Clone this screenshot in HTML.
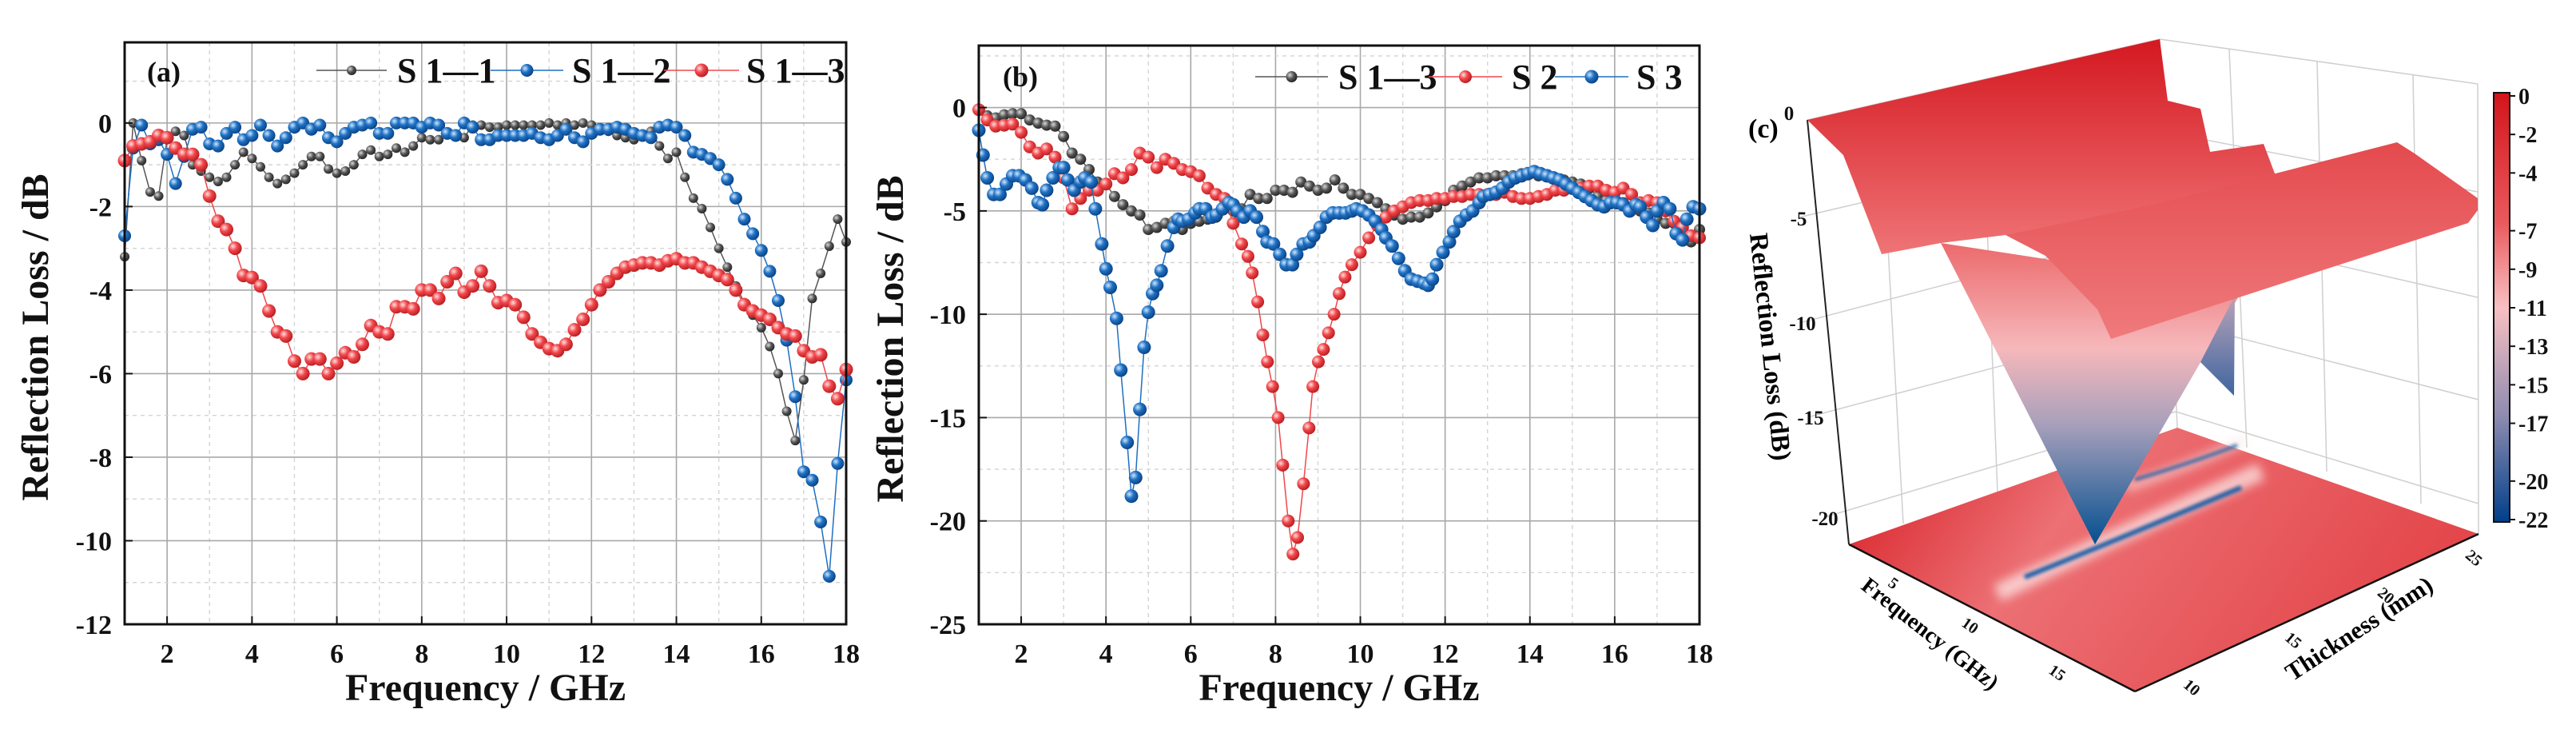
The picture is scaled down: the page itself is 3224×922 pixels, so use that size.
<!DOCTYPE html>
<html><head><meta charset="utf-8"><style>
html,body{margin:0;padding:0;background:#fff;}
svg{display:block;font-family:"Liberation Serif",serif;font-weight:bold;}
</style></head><body>
<svg id="fig" width="3224" height="922" viewBox="0 0 3224 922" xmlns="http://www.w3.org/2000/svg">
<defs>
<radialGradient id="gk" cx="0.35" cy="0.35" r="0.7"><stop offset="0" stop-color="#d8d8d8"/><stop offset="0.5" stop-color="#555"/><stop offset="1" stop-color="#222"/></radialGradient>
<radialGradient id="gb" cx="0.35" cy="0.35" r="0.7"><stop offset="0" stop-color="#cfe6ff"/><stop offset="0.45" stop-color="#1f72c4"/><stop offset="1" stop-color="#0b3f80"/></radialGradient>
<radialGradient id="gr" cx="0.35" cy="0.35" r="0.7"><stop offset="0" stop-color="#ffe0e0"/><stop offset="0.45" stop-color="#f2474b"/><stop offset="1" stop-color="#b31c20"/></radialGradient>
<linearGradient id="cone" x1="0" y1="0" x2="0" y2="1"><stop offset="0" stop-color="#ec6a6c"/><stop offset="0.35" stop-color="#f6b8bb"/><stop offset="0.6" stop-color="#a9a0bb"/><stop offset="1" stop-color="#04508f"/></linearGradient>
<linearGradient id="sheetB" x1="0" y1="0" x2="0" y2="1"><stop offset="0" stop-color="#d41820"/><stop offset="1" stop-color="#ef7476"/></linearGradient>
<linearGradient id="sheetF" x1="0" y1="0" x2="0" y2="1"><stop offset="0" stop-color="#e44a4e"/><stop offset="1" stop-color="#ef7a7c"/></linearGradient>
<linearGradient id="floorG" x1="0" y1="0" x2="1" y2="0.3"><stop offset="0" stop-color="#d5181f"/><stop offset="0.4" stop-color="#ec7074"/><stop offset="1" stop-color="#e3474b"/></linearGradient>
<linearGradient id="cbar" x1="0" y1="0" x2="0" y2="1"><stop offset="0" stop-color="#d3141c"/><stop offset="0.3" stop-color="#e9595c"/><stop offset="0.5" stop-color="#f8c0c2"/><stop offset="0.75" stop-color="#8f8cb0"/><stop offset="1" stop-color="#003f8a"/></linearGradient>
<linearGradient id="blueSl" x1="0" y1="0" x2="0" y2="1"><stop offset="0" stop-color="#b9a3b8"/><stop offset="1" stop-color="#3f65a0"/></linearGradient>
<filter id="blur6" x="-20%" y="-50%" width="140%" height="200%"><feGaussianBlur stdDeviation="6"/></filter>
<filter id="blur2" x="-20%" y="-50%" width="140%" height="200%"><feGaussianBlur stdDeviation="2"/></filter>
</defs>
<g id="panelA"></g>
<g id="panelB"></g>
<g id="panelC">
  <g stroke="#cfcfcf" stroke-width="1.5" fill="none">
    <line x1="2262" y1="150" x2="2703" y2="49"/><line x1="2703" y1="49" x2="3101" y2="105"/>
    <line x1="2703" y1="49" x2="2725" y2="535"/><line x1="3101" y1="105" x2="3102" y2="668"/>
    <line x1="2353" y1="128" x2="2382" y2="655"/><line x1="2480" y1="100" x2="2500" y2="616"/><line x1="2608" y1="70" x2="2625" y2="575"/>
    <line x1="2790" y1="62" x2="2812" y2="560"/><line x1="2900" y1="77" x2="2912" y2="590"/><line x1="3020" y1="94" x2="3030" y2="630"/>
    <line x1="2251" y1="272" x2="2708" y2="165"/><line x1="2256" y1="403" x2="2713" y2="283"/><line x1="2266" y1="521" x2="2718" y2="401"/><line x1="2284" y1="647" x2="2723" y2="515"/>
    <line x1="2708" y1="165" x2="3101" y2="240"/><line x1="2713" y1="283" x2="3101" y2="372"/><line x1="2718" y1="401" x2="3102" y2="500"/><line x1="2723" y1="515" x2="3102" y2="630"/>
  </g>
  <line x1="2262" y1="150" x2="2314" y2="681" stroke="#222" stroke-width="2"/>
  <polygon points="2314,681 2725,535 3102,668 2672,865" fill="url(#floorG)"/>
  <path d="M2500,742 Q2660,665 2830,590" stroke="#fde6e6" stroke-width="22" fill="none" opacity="0.75" filter="url(#blur6)"/>
  <path d="M2660,610 Q2760,575 2810,550" stroke="#fde6e6" stroke-width="12" fill="none" opacity="0.6" filter="url(#blur6)"/>
  <path d="M2534,722 Q2650,675 2805,610" stroke="#1b5ea6" stroke-width="6" fill="none" filter="url(#blur2)"/>
  <path d="M2672,600 Q2740,580 2800,557" stroke="#2d67a8" stroke-width="4" fill="none" filter="url(#blur2)"/>
  <polygon points="2429,304 2807,362 2622,681" fill="url(#cone)"/>
  <polygon points="2754,453 2797,370 2796,495" fill="url(#blueSl)"/>
  <polygon points="2262,150 2703,49 2713,126 2754,136 2766,190 2833,180 2850,225 2870,215 2640,300 2510,294 2429,304 2355,318 2307,194" fill="url(#sheetB)"/>
  <polygon points="2510,294 2700,255 3000,178 3022,192 3101,248 3101,263 3089,279 2642,424 2625,387 2560,320" fill="url(#sheetF)"/>
  <line x1="2314" y1="681" x2="2672" y2="865" stroke="#111" stroke-width="2.5"/>
  <line x1="2672" y1="865" x2="3102" y2="668" stroke="#111" stroke-width="2.5"/>
  <g font-size="25" fill="#111">
    <text x="2239" y="150" text-anchor="middle">0</text><text x="2251" y="282" text-anchor="middle">-5</text>
    <text x="2256" y="413" text-anchor="middle">-10</text><text x="2266" y="531" text-anchor="middle">-15</text><text x="2284" y="657" text-anchor="middle">-20</text>
  </g>
  <text transform="translate(2205,435) rotate(84)" font-size="33" text-anchor="middle">Reflection Loss (dB)</text>
  <text x="2188" y="172" font-size="34">(c)</text>
  <g font-size="20" fill="#111">
    <text transform="translate(2366,735) rotate(35)" text-anchor="middle">5</text>
    <text transform="translate(2462,788) rotate(35)" text-anchor="middle">10</text>
    <text transform="translate(2571,847) rotate(35)" text-anchor="middle">15</text>
  </g>
  <g font-size="20" fill="#111">
    <text transform="translate(2739,865) rotate(40)" text-anchor="middle">10</text>
    <text transform="translate(2866,806) rotate(40)" text-anchor="middle">15</text>
    <text transform="translate(2982,750) rotate(40)" text-anchor="middle">20</text>
    <text transform="translate(3092,703) rotate(40)" text-anchor="middle">25</text>
  </g>
  <text transform="translate(2410,800) rotate(38)" font-size="28" text-anchor="middle">Frequency (GHz)</text>
  <text transform="translate(2958,795) rotate(-33)" font-size="31" text-anchor="middle">Thickness (mm)</text>
  <rect x="3121" y="116" width="20" height="537" fill="url(#cbar)" stroke="#111" stroke-width="2"/>
  <g id="cbarLabels" font-size="28" fill="#111"></g>
</g>
</svg>
<script>
const NS='http://www.w3.org/2000/svg';
// ---------- Panel A data ----------
const freqA=[];for(let i=0;i<=85;i++)freqA.push(+(1+i*0.2).toFixed(1));
const a_S11=[-3.2,0,-0.9,-1.65,-1.75,-0.4,-0.2,-0.3,-1.0,-1.15,-1.3,-1.4,-1.3,-1.0,-0.7,-0.85,-1.05,-1.3,-1.45,-1.35,-1.2,-1.0,-0.8,-0.8,-1.1,-1.2,-1.15,-1.0,-0.75,-0.65,-0.8,-0.75,-0.6,-0.7,-0.55,-0.35,-0.4,-0.4,-0.25,-0.3,-0.35,-0.05,-0.05,-0.1,-0.1,-0.05,-0.05,-0.05,-0.05,-0.05,0,-0.05,0,-0.05,0,-0.05,-0.15,-0.2,-0.3,-0.35,-0.4,-0.3,-0.2,-0.55,-0.85,-0.7,-1.3,-1.8,-2.05,-2.5,-3.0,-3.45,-3.9,-4.3,-4.6,-4.9,-5.35,-6.0,-6.9,-7.6,-6.15,-4.2,-3.6,-2.95,-2.3,-2.85];
const a_S12=[-2.7,-0.6,-0.05,-0.5,-0.4,-0.75,-1.45,-0.8,-0.15,-0.1,-0.5,-0.55,-0.25,-0.1,-0.4,-0.3,-0.05,-0.3,-0.55,-0.35,-0.1,0,-0.15,-0.05,-0.35,-0.45,-0.25,-0.1,-0.05,0,-0.25,-0.25,0,0,0,-0.1,0,-0.05,-0.25,-0.3,0,-0.1,-0.4,-0.4,-0.3,-0.3,-0.3,-0.3,-0.25,-0.35,-0.4,-0.3,-0.15,-0.35,-0.45,-0.25,-0.15,-0.15,-0.1,-0.15,-0.25,-0.3,-0.35,-0.1,-0.05,-0.1,-0.3,-0.7,-0.75,-0.85,-1.0,-1.35,-1.8,-2.3,-2.65,-3.05,-3.55,-4.25,-5.2,-6.55,-8.35,-8.55,-9.55,-10.85,-8.15,-6.15];
const a_S13=[-0.9,-0.55,-0.5,-0.45,-0.3,-0.35,-0.6,-0.75,-0.75,-1.0,-1.75,-2.35,-2.55,-3.0,-3.65,-3.7,-3.9,-4.5,-5.0,-5.1,-5.7,-6.0,-5.65,-5.65,-6.0,-5.75,-5.5,-5.6,-5.3,-4.85,-5.0,-5.05,-4.4,-4.4,-4.45,-4.0,-4.0,-4.2,-3.8,-3.6,-4.05,-3.9,-3.55,-3.9,-4.3,-4.25,-4.35,-4.65,-5.05,-5.25,-5.4,-5.45,-5.3,-4.95,-4.7,-4.35,-4.0,-3.8,-3.6,-3.45,-3.4,-3.35,-3.35,-3.4,-3.3,-3.25,-3.35,-3.35,-3.45,-3.55,-3.65,-3.75,-4.0,-4.35,-4.5,-4.6,-4.7,-4.9,-5.05,-5.1,-5.45,-5.6,-5.55,-6.3,-6.6,-5.9];
const xTicksA=[2,4,6,8,10,12,14,16,18];
const yTicksA=[0,-2,-4,-6,-8,-10,-12];
// ---------- Panel B data ----------
const b_S13=[-0.1,-0.4,-0.5,-0.35,-0.3,-0.3,-0.6,-0.75,-0.85,-0.9,-1.4,-2.2,-2.5,-3.0,-3.6,-3.7,-4.3,-4.7,-5.0,-5.2,-5.9,-5.8,-5.6,-5.5,-5.9,-5.6,-5.5,-5.4,-5.3,-4.8,-5.0,-4.9,-4.2,-4.4,-4.4,-4.0,-4.0,-4.1,-3.6,-3.8,-4.0,-3.9,-3.5,-3.9,-4.2,-4.2,-4.4,-4.6,-4.9,-5.2,-5.4,-5.3,-5.3,-5.1,-4.8,-4.5,-4.0,-3.8,-3.6,-3.4,-3.4,-3.3,-3.3,-3.3,-3.2,-3.2,-3.3,-3.3,-3.4,-3.5,-3.6,-3.7,-3.9,-4.3,-4.5,-4.6,-4.6,-4.8,-5.0,-5.1,-5.4,-5.6,-5.6,-6.2,-6.5,-5.9];
const freqB_S2=[1.0,1.2,1.4,1.6,1.8,2.0,2.2,2.4,2.6,2.8,3.0,3.2,3.4,3.6,3.8,4.0,4.2,4.4,4.6,4.8,5.0,5.2,5.4,5.6,5.8,6.0,6.2,6.4,6.6,6.8,7.0,7.2,7.35,7.45,7.58,7.7,7.81,7.93,8.06,8.17,8.3,8.41,8.52,8.66,8.79,8.88,9.01,9.13,9.25,9.38,9.5,9.64,9.8,10.0,10.2,10.4,10.6,10.8,11.0,11.2,11.4,11.6,11.8,12.0,12.2,12.4,12.6,12.8,13.0,13.2,13.4,13.6,13.8,14.0,14.2,14.4,14.6,14.8,15.0,15.2,15.4,15.6,15.8,16.0,16.2,16.4,16.6,16.8,17.0,17.2,17.4,17.6,17.8,18.0];
const b_S2=[-0.1,-0.6,-0.9,-0.85,-0.8,-1.2,-1.9,-2.2,-2.0,-2.4,-3.4,-4.9,-4.4,-4.0,-4.0,-3.7,-3.2,-3.4,-3.0,-2.2,-2.4,-2.9,-2.5,-2.7,-3.0,-3.1,-3.3,-3.9,-4.2,-4.4,-5.6,-6.6,-7.2,-8.0,-9.4,-11.0,-12.3,-13.5,-15.0,-17.3,-20.0,-21.6,-20.8,-18.2,-15.5,-13.5,-12.3,-11.7,-10.9,-10.0,-9.0,-8.2,-7.6,-7.0,-6.3,-5.7,-5.3,-5.0,-4.8,-4.6,-4.5,-4.5,-4.4,-4.4,-4.3,-4.3,-4.2,-4.2,-4.2,-4.2,-4.1,-4.3,-4.4,-4.4,-4.3,-4.2,-4.0,-4.0,-3.9,-3.9,-3.8,-3.8,-4.0,-4.1,-3.9,-4.2,-4.6,-4.5,-4.6,-5.0,-5.5,-5.8,-6.2,-6.3];
const freqB_S3=[1.0,1.1,1.2,1.35,1.5,1.65,1.8,1.95,2.1,2.25,2.4,2.5,2.6,2.75,2.9,3.0,3.1,3.25,3.4,3.5,3.65,3.75,3.9,4.0,4.1,4.25,4.35,4.5,4.6,4.7,4.8,4.9,5.0,5.1,5.2,5.3,5.45,5.6,5.7,5.8,5.95,6.1,6.2,6.35,6.5,6.6,6.75,6.9,7.0,7.1,7.25,7.4,7.55,7.7,7.8,7.95,8.1,8.25,8.4,8.5,8.65,8.8,8.9,9.05,9.2,9.35,9.5,9.65,9.8,9.9,10.05,10.2,10.35,10.5,10.6,10.75,10.9,11.05,11.2,11.35,11.5,11.6,11.7,11.8,11.95,12.1,12.2,12.35,12.5,12.65,12.8,12.9,13.05,13.2,13.35,13.5,13.65,13.8,13.95,14.1,14.25,14.4,14.55,14.7,14.85,15.0,15.15,15.3,15.45,15.6,15.75,15.9,16.05,16.2,16.35,16.5,16.6,16.75,16.9,17.0,17.15,17.3,17.45,17.6,17.7,17.85,18.0];
const b_S3=[-1.1,-2.3,-3.4,-4.2,-4.2,-3.7,-3.3,-3.3,-3.5,-3.9,-4.6,-4.7,-4.0,-3.4,-2.9,-2.9,-3.5,-4.0,-3.6,-3.4,-3.6,-4.9,-6.6,-7.8,-8.7,-10.2,-12.7,-16.2,-18.8,-17.9,-14.6,-11.6,-9.9,-9.0,-8.6,-7.9,-6.7,-5.8,-5.4,-5.5,-5.4,-5.1,-4.9,-4.9,-5.3,-5.2,-4.9,-4.6,-4.7,-5.0,-5.3,-5.0,-5.3,-6.0,-6.5,-6.6,-7.1,-7.6,-7.6,-7.1,-6.6,-6.5,-6.2,-5.8,-5.3,-5.1,-5.1,-5.1,-5.0,-4.9,-5.0,-5.2,-5.5,-5.9,-6.3,-6.7,-7.3,-7.9,-8.3,-8.4,-8.5,-8.6,-8.3,-7.6,-7.0,-6.5,-6.0,-5.5,-5.2,-5.0,-4.6,-4.3,-4.2,-4.1,-3.9,-3.6,-3.4,-3.3,-3.2,-3.1,-3.2,-3.3,-3.4,-3.5,-3.7,-3.9,-4.1,-4.3,-4.5,-4.7,-4.8,-4.6,-4.6,-4.7,-5.0,-4.7,-4.8,-5.3,-5.7,-5.0,-4.6,-4.9,-6.1,-6.4,-5.4,-4.8,-4.9];
const xTicksB=[2,4,6,8,10,12,14,16,18];
const yTicksB=[0,-5,-10,-15,-20,-25];
const cbarTicks=[0,-2,-4,-7,-9,-11,-13,-15,-17,-20,-22];

function mk(parent,tag,attrs,txt){const e=document.createElementNS(NS,tag);for(const k in attrs)e.setAttribute(k,attrs[k]);if(txt!==undefined)e.textContent=txt;parent.appendChild(e);return e;}

function panel(g,c){
  const sx=v=>c.L+(v-c.xmin)/(c.xmax-c.xmin)*(c.R-c.L);
  const sy=v=>c.T+(c.ymax-v)/(c.ymax-c.ymin)*(c.B-c.T);
  for(let v=Math.ceil(c.xmin);v<=c.xmax;v++){
    const ln=mk(g,'line',{x1:sx(v),x2:sx(v),y1:c.T,y2:c.B,stroke:v%2===0?'#a8a8a8':'#d4d4d4','stroke-width':v%2===0?1.6:1.4,'stroke-dasharray':v%2===0?'':'5,5'});
    
    
  }
  for(let v=c.ymin;v<=c.ymax+1e-9;v+=c.ystep/2){
    const major=Math.abs((v/c.ystep)-Math.round(v/c.ystep))<1e-6;
    const ln=mk(g,'line',{x1:c.L,x2:c.R,y1:sy(v),y2:sy(v),stroke:major?'#a8a8a8':'#d4d4d4','stroke-width':major?1.6:1.4,'stroke-dasharray':major?'':'5,5'});
    
    
  }
  c.series.forEach(s=>{
    const pts=s.x.map((x,i)=>sx(x).toFixed(1)+','+sy(s.y[i]).toFixed(1)).join(' ');
    const pl=mk(g,'polyline',{points:pts,fill:'none',stroke:s.line,'stroke-width':1.5});
    
    
    s.x.forEach((x,i)=>{
      const m=mk(g,'circle',{cx:sx(x).toFixed(1),cy:sy(s.y[i]).toFixed(1),r:s.r,fill:s.fill});
      
      
    });
  });
  const fr=mk(g,'rect',{x:c.L,y:c.T,width:c.R-c.L,height:c.B-c.T,fill:'none',stroke:'#111','stroke-width':3});
  
  
  c.xt.forEach(v=>{
    const t=mk(g,'text',{x:sx(v),y:c.B+48,'font-size':34,'text-anchor':'middle',fill:'#111'},String(v));
    
    
    mk(g,'line',{x1:sx(v),x2:sx(v),y1:c.B,y2:c.B-10,stroke:'#111','stroke-width':2});
  });
  c.yt.forEach(v=>{
    const t=mk(g,'text',{x:c.L-16,y:sy(v)+12,'font-size':34,'text-anchor':'end',fill:'#111'},String(v));
    
    
    mk(g,'line',{x1:c.L,x2:c.L+10,y1:sy(v),y2:sy(v),stroke:'#111','stroke-width':2});
  });
  const xt=mk(g,'text',{x:(c.L+c.R)/2,y:c.B+95,'font-size':48,'text-anchor':'middle',fill:'#111'},'Frequency / GHz');
  
  
  const yt=mk(g,'text',{transform:`translate(${c.ytx},${(c.T+c.B)/2+5}) rotate(-90)`,'font-size':48,'text-anchor':'middle',fill:'#111'},'Reflection Loss / dB');
  
  
  const lab=mk(g,'text',{x:c.labx,y:c.laby+12,'font-size':36,fill:'#111'},c.label);
  
  
  c.legend.forEach(l=>{
    const lg=mk(g,'g',{});
    
    
    mk(lg,'line',{x1:l.x0,x2:l.x1,y1:c.legy,y2:c.legy,stroke:l.line,'stroke-width':1.5});
    mk(lg,'circle',{cx:(l.x0+l.x1)/2,cy:c.legy,r:l.r,fill:l.fill});
    mk(lg,'text',{x:l.tx,y:c.legy+15,'font-size':44,fill:'#111'},l.text);
  });
}
panel(document.getElementById('panelA'),{L:156,R:1059,T:53,B:781,xmin:1,xmax:18,ymin:-12,ymax:1.93,ystep:2,
  xt:xTicksA,yt:yTicksA,ytx:60,label:'(a)',labx:184,laby:90,legy:88,
  series:[{id:'s1-1',x:freqA,y:a_S11,line:'#555',fill:'url(#gk)',r:6},
          {id:'s1-2',x:freqA,y:a_S12,line:'#1f6fc0',fill:'url(#gb)',r:8},
          {id:'s1-3',x:freqA,y:a_S13,line:'#f0464a',fill:'url(#gr)',r:8.5}],
  legend:[{x0:396,x1:484,tx:497,text:'S 1—1',line:'#555',fill:'url(#gk)',r:6},
          {x0:614,x1:705,tx:716,text:'S 1—2',line:'#1f6fc0',fill:'url(#gb)',r:8},
          {x0:831,x1:925,tx:934,text:'S 1—3',line:'#f0464a',fill:'url(#gr)',r:8.5}]});
panel(document.getElementById('panelB'),{L:1225,R:2127,T:57,B:781,xmin:1,xmax:18,ymin:-25,ymax:3,ystep:5,
  xt:xTicksB,yt:yTicksB,ytx:1130,label:'(b)',labx:1255,laby:96,legy:96,
  series:[{id:'s1-3',x:freqA,y:b_S13,line:'#555',fill:'url(#gk)',r:7},
          {id:'s2',x:freqB_S2,y:b_S2,line:'#f0464a',fill:'url(#gr)',r:8},
          {id:'s3',x:freqB_S3,y:b_S3,line:'#1f6fc0',fill:'url(#gb)',r:8.5}],
  legend:[{x0:1571,x1:1662,tx:1675,text:'S 1—3',line:'#555',fill:'url(#gk)',r:7},
          {x0:1788,x1:1880,tx:1892,text:'S 2',line:'#f0464a',fill:'url(#gr)',r:8},
          {x0:1946,x1:2038,tx:2048,text:'S 3',line:'#1f6fc0',fill:'url(#gb)',r:8.5}]});
const cb=document.getElementById('cbarLabels');
const cy=v=>120+(0-v)/22*530;
cbarTicks.forEach(v=>{
  const t=mk(cb,'text',{x:3152,y:cy(v)+10},String(v));
  
  
  mk(cb,'line',{x1:3141,x2:3148,y1:cy(v),y2:cy(v),stroke:'#111','stroke-width':2});
});
</script>
</body></html>
